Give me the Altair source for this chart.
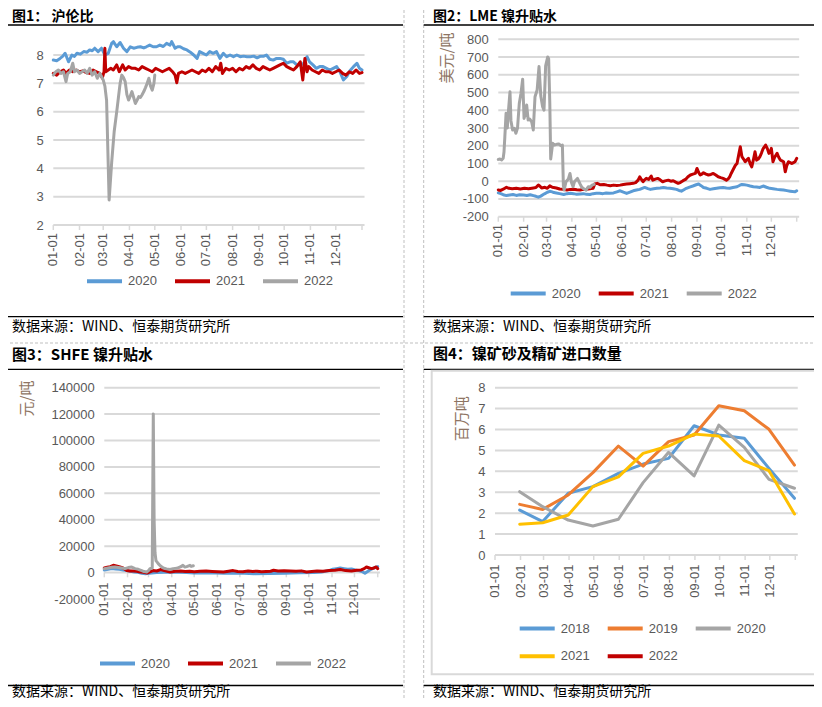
import altair as alt
import pandas as pd

# ------------------------------------------------------------------
# Values (day of year, value)
# ------------------------------------------------------------------
MONTH_LABELS = ["01-01", "02-01", "03-01", "04-01", "05-01", "06-01",
                "07-01", "08-01", "09-01", "10-01", "11-01", "12-01"]
MONTH_START_DAYS = [0, 31, 59, 90, 120, 151, 181, 212, 243, 273, 304, 334]
YEAR_END_DAY = 365

# Figure 1: 沪伦比
ratio_2020 = [(0, 7.82), (4, 7.80), (8, 7.88), (11, 7.95), (14, 8.06), (18, 7.76), (22, 8.0), (25, 7.95),
              (28, 8.06), (32, 8.03), (36, 8.12), (40, 8.10), (43, 8.18), (46, 8.15), (49, 8.24), (53, 8.12),
              (57, 8.24), (61, 8.0), (65, 8.06), (69, 8.41), (71, 8.47), (75, 8.29), (79, 8.44), (83, 8.24),
              (87, 8.12), (91, 8.29), (95, 8.24), (99, 8.27), (103, 8.29), (107, 8.25), (110, 8.29),
              (114, 8.35), (118, 8.29), (122, 8.29), (126, 8.35), (130, 8.30), (134, 8.41), (138, 8.35),
              (140, 8.47), (144, 8.24), (147, 8.29), (150, 8.29), (154, 8.22), (158, 8.18), (162, 8.10),
              (166, 8.00), (170, 7.88), (173, 8.12), (177, 8.06), (181, 8.0), (185, 8.12), (189, 8.06),
              (193, 8.12), (197, 7.88), (201, 8.06), (205, 7.94), (209, 8.0), (213, 7.94), (217, 8.0),
              (221, 7.94), (225, 7.96), (229, 7.94), (233, 7.94), (237, 7.96), (241, 7.90), (245, 7.96),
              (249, 7.96), (252, 8.0), (256, 7.85), (260, 7.82), (264, 7.88), (268, 7.88), (272, 7.85),
              (276, 7.71), (280, 7.76), (284, 7.76), (288, 7.65), (292, 7.65), (296, 7.70), (300, 7.94),
              (303, 7.76), (307, 7.65), (311, 7.53), (315, 7.59), (319, 7.59), (323, 7.53), (327, 7.47),
              (331, 7.53), (335, 7.59), (339, 7.40), (343, 7.12), (347, 7.24), (351, 7.45), (355, 7.59),
              (359, 7.71), (362, 7.53), (365, 7.47)]
ratio_2021 = [(0, 7.35), (4, 7.29), (8, 7.41), (12, 7.47), (15, 7.35), (19, 7.47), (23, 7.41), (27, 7.47),
              (31, 7.41), (35, 7.44), (39, 7.38), (43, 7.35), (47, 7.47), (51, 7.41), (55, 7.35), (58, 7.19),
              (60, 7.41), (61, 8.24), (62, 7.41), (65, 7.47), (68, 7.53), (71, 7.47), (75, 7.65), (78, 7.41),
              (82, 7.65), (85, 7.47), (89, 7.59), (93, 7.53), (97, 7.53), (101, 7.47), (105, 7.59),
              (109, 7.53), (113, 7.47), (117, 7.41), (121, 7.53), (125, 7.47), (129, 7.41), (133, 7.47),
              (137, 7.53), (141, 7.41), (144, 7.29), (146, 7.02), (148, 7.35), (152, 7.41), (156, 7.35),
              (160, 7.41), (164, 7.47), (168, 7.41), (172, 7.35), (176, 7.47), (180, 7.41), (184, 7.53),
              (188, 7.41), (192, 7.59), (196, 7.47), (198, 7.71), (200, 7.35), (204, 7.53), (208, 7.47),
              (212, 7.53), (216, 7.41), (220, 7.53), (224, 7.47), (228, 7.59), (232, 7.53), (236, 7.65),
              (240, 7.53), (244, 7.47), (248, 7.59), (252, 7.53), (256, 7.47), (260, 7.53), (264, 7.59),
              (268, 7.65), (272, 7.71), (276, 7.59), (280, 7.53), (284, 7.47), (288, 7.59), (292, 7.76),
              (295, 7.12), (297.5, 7.88), (300, 7.41), (302, 7.59), (306, 7.47), (310, 7.41), (314, 7.35),
              (318, 7.47), (322, 7.41), (326, 7.41), (330, 7.35), (334, 7.41), (338, 7.47), (342, 7.35),
              (346, 7.29), (350, 7.41), (354, 7.35), (358, 7.47), (362, 7.35), (365, 7.38)]
ratio_2022 = [(0, 7.29), (3, 7.41), (6, 7.47), (9, 7.35), (12, 7.41), (15, 7.06), (17, 7.35), (20, 7.41),
              (23, 7.71), (25, 7.41), (28, 7.47), (31, 7.35), (34, 7.41), (37, 7.47), (40, 7.35), (43, 7.53),
              (46, 7.29), (49, 7.41), (52, 7.18), (55, 7.35), (57, 7.24), (59, 7.12), (61, 6.9), (63, 6.4),
              (66, 2.88), (69, 4.2), (72, 5.3), (75, 6.0), (77, 6.5), (79, 7.0), (81, 7.29), (83, 7.2),
              (85, 7.06), (87, 6.6), (89, 6.41), (91, 6.55), (93, 6.71), (95, 6.5), (97, 6.29), (99, 6.4),
              (101, 6.53), (103, 6.5), (105, 6.6), (107, 6.71), (109, 6.85), (111, 7.0), (113, 7.18),
              (115, 6.9), (117, 6.76), (119, 7.0), (120, 7.29)]

# Figure 2: LME 镍升贴水 (美元/吨)
lme_2020 = [(0, -66), (3, -70), (6, -76), (10, -81), (14, -78), (18, -75), (22, -80), (26, -76), (31, -78),
            (35, -80), (39, -76), (43, -81), (46, -85), (49, -90), (52, -84), (55, -75), (57, -70), (60, -62),
            (63, -57), (66, -60), (68, -64), (71, -66), (75, -70), (80, -75), (84, -70), (88, -68), (92, -70),
            (96, -74), (100, -72), (104, -70), (108, -74), (112, -75), (116, -70), (120, -68), (124, -68),
            (128, -70), (132, -66), (136, -68), (141, -66), (145, -60), (149, -54), (153, -62), (157, -69),
            (161, -62), (165, -54), (169, -50), (173, -46), (176, -40), (179, -35), (183, -42), (186, -46),
            (190, -42), (194, -40), (198, -38), (202, -35), (206, -38), (210, -40), (214, -42), (218, -46),
            (221, -52), (224, -56), (227, -48), (230, -40), (234, -33), (238, -27), (242, -20), (245, -16),
            (248, -25), (251, -35), (255, -40), (259, -46), (263, -43), (267, -40), (271, -37), (275, -35),
            (279, -38), (283, -40), (287, -35), (292, -31), (295, -24), (298, -18), (301, -20), (304, -22),
            (308, -27), (312, -31), (316, -33), (320, -35), (324, -27), (328, -34), (332, -40), (336, -42),
            (341, -46), (345, -48), (349, -50), (353, -53), (357, -56), (360, -58), (363, -60), (365, -54)]
lme_2021 = [(0, -49), (3, -52), (6, -45), (10, -34), (13, -40), (17, -42), (22, -40), (27, -44), (32, -40),
            (37, -42), (43, -38), (46, -36), (49, -21), (51, -28), (53, -38), (57, -34), (60, -40), (63, -26),
            (66, -34), (71, -38), (75, -44), (79, -46), (84, -49), (88, -46), (92, -45), (96, -48), (100, -49),
            (104, -46), (108, -45), (112, -42), (116, -40), (118, -15), (121, -12), (125, -20), (129, -18),
            (133, -22), (137, -25), (141, -22), (145, -24), (149, -22), (153, -18), (157, -16), (161, -14),
            (165, -12), (168, -8), (171, 6), (173, 25), (175, 10), (177, -3), (179, 8), (181, 16), (184, 10),
            (187, 29), (189, 6), (192, 12), (195, 16), (198, 8), (201, -3), (204, 2), (208, 6), (211, 0),
            (214, 3), (217, -5), (220, -12), (223, -6), (226, 3), (229, 10), (232, 25), (235, 35), (238, 40),
            (241, 44), (243, 72), (245, 50), (247, 35), (249, 40), (251, 48), (254, 40), (257, 35), (260, 38),
            (263, 44), (266, 35), (269, 25), (272, 20), (275, 16), (279, 6), (281, 12), (283, 25), (285, 45),
            (287, 63), (290, 90), (292, 100), (294, 147), (296, 194), (298, 138), (300, 125), (302, 110),
            (304, 120), (306, 129), (308, 100), (310, 81), (312, 120), (314, 166), (316, 119), (318, 125),
            (320, 138), (322, 160), (324, 184), (327, 204), (329, 185), (331, 157), (333, 170), (334, 185),
            (336, 110), (338, 135), (341, 157), (343, 135), (345, 119), (347, 115), (349, 110), (351, 53),
            (353, 90), (355, 110), (357, 105), (359, 100), (361, 105), (363, 110), (365, 129)]
lme_2022 = [(0, 123), (2, 125), (4, 120), (6, 130), (7, 166), (8, 250), (9.5, 383), (11, 300), (12.5, 401),
            (14.3, 504), (15.5, 340), (17.5, 289), (19.6, 298), (21.5, 270), (23.5, 300), (25.7, 440),
            (27.7, 495), (29.8, 575), (31.5, 354), (33, 380), (34.7, 430), (36.5, 345), (38.5, 350),
            (40.8, 335), (42.8, 289), (44.9, 476), (47.5, 514), (49.8, 646), (52, 480), (54.2, 420),
            (55.9, 401), (57.9, 650), (60.4, 700), (61.6, 690), (63, 439), (64.1, 125), (66.5, 214),
            (68.5, 204), (71.4, 208), (74, 210), (76.5, 200), (78.4, 204), (79.6, -25), (80.5, -50),
            (82.8, -3), (85.7, 13), (87.7, 44), (89.7, -10), (91.5, -31), (93.1, -3), (96.8, 16), (100, -15),
            (102.1, -34), (105.2, -45), (107.4, -50), (110, -31), (112.3, -34), (114.5, -22), (117.2, -18)]

# Figure 3: SHFE 镍升贴水 (元/吨)
shfe_2020 = [(0, 2000), (5, 2500), (10, 3000), (15, 2800), (20, 2500), (25, 2000), (30, 1500), (35, 1000),
             (40, 500), (45, 200), (50, -500), (55, -800), (60, -500), (70, 0), (80, 300), (90, 500),
             (100, 200), (110, 0), (120, -300), (140, -200), (160, -500), (180, -300), (200, -800),
             (220, -600), (240, -500), (260, -200), (280, 0), (290, 500), (300, 1500), (305, 2500),
             (310, 3000), (315, 3500), (320, 3000), (325, 2500), (330, 2800), (335, 2000), (340, 1500),
             (345, 500), (348, -500), (352, 1000), (356, 2500), (360, 3500), (365, 4500)]
shfe_2021 = [(0, 3500), (4, 4000), (8, 4500), (12, 5500), (16, 5000), (21, 4200), (25, 3500), (30, 1500),
             (34, 1200), (39, 1200), (43, 1000), (48, 450), (52, 200), (57, -300), (61, 500), (65, 1500),
             (70, 1200), (75, 2300), (80, 1500), (88, 450), (95, 1000), (102, 1200), (108, 800), (114, 980),
             (120, 700), (128, 1000), (136, 1200), (144, 900), (152, 700), (159, 450), (166, 1000),
             (172, 1500), (178, 800), (185, 700), (192, 1200), (198, 900), (204, 980), (210, 600), (216, 800),
             (222, 1000), (226, 1740), (232, 1200), (240, 1400), (248, 1210), (256, 1000), (263, 1300),
             (270, 450), (277, 900), (284, 1200), (292, 980), (300, 1500), (308, 1800), (315, 2270),
             (322, 1500), (330, 1210), (337, 1700), (343, 2000), (347, 3000), (350, 4240), (354, 3500),
             (357, 3030), (360, 3500), (363, 4240), (365, 3000)]
shfe_2022 = [(0, 3000), (5, 3500), (10, 4000), (14, 4200), (19, 3800), (23, 3500), (27.6, 3000), (32, 3800),
             (36.6, 4200), (41, 3000), (45.4, 2500), (50, 1500), (53, 800), (56.6, 500), (59, 1500), (61, 3000),
             (64, 3500), (65.4, 120000), (66.5, 40000), (67.7, 15000), (69, 9000), (72, 6800), (75, 5000),
             (78.8, 3500), (83, 2800), (87.7, 2300), (92, 3000), (96.7, 3200), (100, 4000), (103.3, 4800),
             (105, 5500), (107.7, 4200), (110, 4500), (114.4, 5500), (116, 4700), (118.8, 5200)]

# Figure 4: 镍矿砂及精矿进口数量 (百万吨), monthly, plotted at month end
import_months = ["01-31", "02-28", "03-31", "04-30", "05-31", "06-30",
                 "07-31", "08-31", "09-30", "10-31", "11-30", "12-31"]
import_2018 = [2.15, 1.60, 2.95, 3.27, 3.90, 4.35, 4.62, 6.18, 5.74, 5.58, 4.14, 2.71]
import_2019 = [2.42, 2.18, 2.87, 3.94, 5.21, 4.25, 5.42, 5.74, 7.14, 6.90, 6.01, 4.30]
import_2020 = [3.03, 2.31, 1.67, 1.39, 1.71, 3.46, 4.91, 3.78, 6.21, 5.15, 3.62, 3.19]
import_2021 = [1.47, 1.54, 1.91, 3.27, 3.74, 4.86, 5.21, 5.78, 5.69, 4.51, 4.03, 1.96]

# ------------------------------------------------------------------
# Build tables
# ------------------------------------------------------------------
def pairs_table(series):
    rows = []
    for year, pts in series:
        for d, v in pts:
            rows.append({"day": d, "value": v, "year": year})
    return pd.DataFrame(rows)


ratio_df = pairs_table([("2020", ratio_2020), ("2021", ratio_2021), ("2022", ratio_2022)])
lme_df = pairs_table([("2020", lme_2020), ("2021", lme_2021), ("2022", lme_2022)])
shfe_df = pairs_table([("2020", shfe_2020), ("2021", shfe_2021), ("2022", shfe_2022)])

month_end_days = [pd.Timestamp("2021-" + m).dayofyear - 1 for m in import_months]
imp_rows = []
for year, vals in [("2018", import_2018), ("2019", import_2019), ("2020", import_2020), ("2021", import_2021)]:
    for d, v in zip(month_end_days, vals):
        imp_rows.append({"day": d, "value": v, "year": year})
import_df = pd.DataFrame(imp_rows)

month_label_df = pd.DataFrame({"day": MONTH_START_DAYS, "label": MONTH_LABELS})
tick_df = pd.DataFrame({"day": MONTH_START_DAYS + [YEAR_END_DAY]})

# ------------------------------------------------------------------
# Styling / layout
# ------------------------------------------------------------------
W, H = 806, 691          # whole canvas (page minus 8px margins)
M = 8                    # page margin


def px(v):
    return v - M


BLUE, RED, GRAY, ORANGE, YELLOW = "#5B9BD5", "#C00000", "#A5A5A5", "#ED7D31", "#FFC000"
GRID = "#D9D9D9"
LABEL = "#595959"
YT_COLOR = "#8E7463"
NUM_FONT = "Liberation Sans"
CJK = "Noto Sans CJK SC"


def panel(df, years, colors, x_left, x_right, y_top_val, y_top, y_bot_val, y_bot, y_ticks, axis_y,
          label_top, legend_x, legend_y, legend_cols=3, y_title=None, y_title_xy=None):
    xs = alt.Scale(domain=[0, YEAR_END_DAY], range=[px(x_left), px(x_right)], nice=False, zero=False)
    ys = alt.Scale(domain=[y_bot_val, y_top_val], range=[px(y_bot), px(y_top)], nice=False, zero=False)
    yargs = dict(orient="left", offset=-px(x_left), values=y_ticks, labelExpr="'' + datum.value",
                 grid=False, domain=False, ticks=False, tickSize=0, labelPadding=10, labelFontSize=13,
                 labelFont=NUM_FONT, labelColor=LABEL)
    if y_title:
        yargs.update(title=y_title, titleX=px(y_title_xy[0]) - px(x_left), titleY=px(y_title_xy[1]),
                     titleAngle=270, titleAlign="center", titleBaseline="middle", titleColor=YT_COLOR,
                     titleFont=CJK, titleFontSize=15, titleFontWeight="normal")
    else:
        yargs.update(title=None)
    y_axis = alt.Axis(**yargs)
    x_enc = alt.X("day:Q", scale=xs, axis=None)
    y_enc = alt.Y("value:Q", scale=ys, axis=y_axis)

    grid_df = pd.DataFrame({"value": y_ticks, "day": 0, "day2": 368})
    grid = alt.Chart(grid_df).mark_rule(color=GRID, strokeWidth=2).encode(
        x=x_enc, x2="day2:Q", y=y_enc)
    ticks = alt.Chart(tick_df).mark_rule(color=GRID, strokeWidth=1.5).encode(
        x=x_enc, y=alt.value(px(axis_y)), y2=alt.value(px(axis_y) + 5))
    xlabels = alt.Chart(month_label_df).mark_text(
        angle=270, align="right", baseline="middle", font=NUM_FONT, fontSize=13, color=LABEL
    ).encode(x=x_enc, y=alt.value(px(label_top)), text="label:N")
    lines = alt.Chart(df).mark_line(strokeWidth=3, strokeJoin="round", strokeCap="round").encode(
        x=x_enc, y=y_enc,
        color=alt.Color("year:N", scale=alt.Scale(domain=years, range=colors),
                        legend=alt.Legend(title=None, orient="none", legendX=px(legend_x),
                                          legendY=px(legend_y), direction="horizontal", columns=legend_cols,
                                          symbolType="stroke", symbolSize=1225, symbolStrokeWidth=4,
                                          labelFontSize=13, labelFont=NUM_FONT, labelColor=LABEL,
                                          labelOffset=4, columnPadding=10, rowPadding=-21.6, padding=0)),
    )
    return alt.layer(grid, ticks, xlabels, lines)


p1 = panel(ratio_df, ["2020", "2021", "2022"], [BLUE, RED, GRAY],
           53.3, 362, 8, 55, 2, 225, [2, 3, 4, 5, 6, 7, 8], 225, 233, 85, 281 - 19.5)
p2 = panel(lme_df, ["2020", "2021", "2022"], [BLUE, RED, GRAY],
           498.3, 796.7, 800, 39.3, -200, 216.7, list(range(-200, 801, 100)), 216.7, 224, 508.7,
           293.3 - 19.5, y_title="美元/吨", y_title_xy=(446.5, 57.5))
p3 = panel(shfe_df, ["2020", "2021", "2022"], [BLUE, RED, GRAY],
           104.3, 377.7, 140000, 387.7, -20000, 599, list(range(-20000, 140001, 20000)), 572.3, 582.5,
           98, 663.3 - 19.5, y_title="元/吨", y_title_xy=(26.7, 398))
p4 = panel(import_df, ["2018", "2019", "2020", "2021", "2022"], [BLUE, ORANGE, GRAY, YELLOW, RED],
           495, 795.3, 8, 387.7, 0, 555, list(range(0, 9)), 555, 564.5, 517.7, 628.3 - 19.5,
           y_title="百万吨", y_title_xy=(461, 418.3))

# ------------------------------------------------------------------
# Frame decorations and texts
# ------------------------------------------------------------------
ONE = alt.Data(values=[{}])


def hline(x1, x2, y, color="#000000", width=1.3, dash=None):
    kw = dict(color=color, strokeWidth=width)
    if dash:
        kw["strokeDash"] = dash
    return alt.Chart(ONE).mark_rule(**kw).encode(
        x=alt.value(px(x1)), x2=alt.value(px(x2)), y=alt.value(px(y)))


def vline(x, y1, y2, color="#000000", width=1.0, dash=None):
    kw = dict(color=color, strokeWidth=width)
    if dash:
        kw["strokeDash"] = dash
    return alt.Chart(ONE).mark_rule(**kw).encode(
        x=alt.value(px(x)), y=alt.value(px(y1)), y2=alt.value(px(y2)))


def label(txt, x, y, size=14, weight="normal"):
    return alt.Chart(ONE).mark_text(align="left", baseline="middle", font=CJK, fontSize=size,
                                    fontWeight=weight, color="#000000").encode(
        x=alt.value(px(x)), y=alt.value(px(y)), text=alt.value(txt))


DASH = [3, 2]
decor = [
    hline(0, 822, 343, color="#BFBFBF", width=1, dash=DASH),
    vline(404, 0, 707, color="#BFBFBF", dash=DASH),
    vline(423.7, 0, 707, color="#BFBFBF", dash=DASH),
    hline(3, 403, 25), hline(423.7, 821, 25),
    hline(3, 403, 316.7), hline(423.7, 821, 316.7),
    hline(3, 403, 369.3), hline(423.7, 821, 369.3),
    hline(3, 403, 685.5), hline(423.7, 821, 685.5),
    alt.Chart(ONE).mark_rect(fill=None, stroke=GRID, strokeWidth=2).encode(
        x=alt.value(px(431.7)), x2=alt.value(px(815.3)), y=alt.value(px(370.7)), y2=alt.value(px(674.3))),
    label("图1：   沪伦比", 12, 17, 14, "bold"),
    label("图2：LME 镍升贴水", 433, 17, 14, "bold"),
    label("图3：SHFE 镍升贴水", 12, 355, 15, "bold"),
    label("图4：镍矿砂及精矿进口数量", 433, 354, 15, "bold"),
    label("数据来源：WIND、恒泰期货研究所", 12, 326.5),
    label("数据来源：WIND、恒泰期货研究所", 433, 326.5),
    label("数据来源：WIND、恒泰期货研究所", 12, 692),
    label("数据来源：WIND、恒泰期货研究所", 433, 692),
]

chart = alt.layer(*decor, p1, p2, p3, p4).resolve_scale(
    x="independent", y="independent", color="independent"
).properties(
    width=W, height=H, autosize=alt.AutoSizeParams(type="none"), padding=0
).configure_view(strokeWidth=0)

chart.save("out.html", embed_options={"renderer": "svg", "actions": False})
